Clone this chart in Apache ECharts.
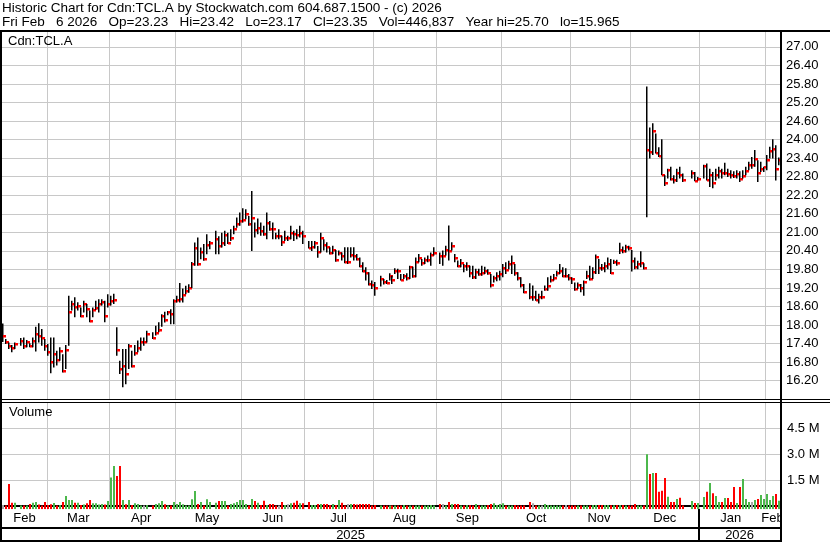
<!DOCTYPE html>
<html><head><meta charset="utf-8">
<script src="https://cdn.jsdelivr.net/npm/echarts@6/dist/echarts.min.js"></script>
<style>html,body{margin:0;padding:0;background:#fff}#c{width:830px;height:543px}</style>
</head><body><div id="c"></div><script>
// ---- data ----
const firstDay = [2025, 1, 10];   // Feb 10 2025 (month 0-based)
const lastDay  = [2026, 1, 6];    // Feb 6 2026
const monthNames = ['Jan','Feb','Mar','Apr','May','Jun','Jul','Aug','Sep','Oct','Nov','Dec'];
const headerLine1 = 'Historic Chart for Cdn:TCL.A by Stockwatch.com 604.687.1500 - (c) 2026';
const headerLine2 = 'Fri Feb   6 2026   Op=23.23   Hi=23.42   Lo=23.17   Cl=23.35   Vol=446,837   Year hi=25.70   lo=15.965';
const symbolLabel = 'Cdn:TCL.A';
const volumeLabel = 'Volume';
const priceTicks = {min: 15.6, max: 27.48, step: 0.6, firstLabel: 16.2, lastLabel: 27.0};
const volumeTicks = {min: 0, max: 5.97, step: 1.5, labels: ['1.5 M', '3.0 M', '4.5 M']};

// one entry per weekday; null = market holiday (no bar)
const high = [
18.05,17.55,17.44,17.36,17.44,null,17.58,17.60,17.52,17.41,17.60,17.95,18.06,17.87,17.55,
17.39,17.60,17.60,17.17,17.28,17.06,17.36,18.95,18.79,18.90,18.74,18.57,18.79,18.68,18.47,18.57,18.79,18.84,18.84,18.79,19.00,
18.95,19.01,17.93,16.85,17.23,17.23,17.39,17.17,17.36,17.50,17.60,17.60,17.82,null,17.77,17.98,18.09,18.35,18.43,18.46,18.51,18.84,
18.95,19.36,19.18,19.27,19.32,20.04,20.67,20.83,20.51,20.62,20.94,20.72,null,21.05,20.87,20.99,21.05,20.99,21.10,21.21,21.48,21.64,
21.78,21.75,21.53,22.34,21.32,21.45,21.32,21.21,21.64,21.37,21.32,20.99,21.10,20.89,21.05,20.89,21.21,21.05,21.10,21.21,21.05,
null,20.72,20.72,20.72,20.56,20.99,20.78,20.68,20.52,20.57,20.43,20.41,20.35,20.52,20.52,20.52,20.52,20.30,20.19,20.03,19.87,19.71,19.44,
19.39,null,19.60,19.49,19.46,19.68,19.60,19.84,19.82,19.65,19.65,19.68,19.92,19.89,20.19,20.30,20.14,20.19,20.25,20.35,20.52,
null,20.35,20.41,20.57,21.22,20.68,20.30,20.09,20.14,19.98,20.03,19.92,19.92,19.82,19.82,19.92,19.89,19.81,19.65,19.60,19.71,19.76,
19.98,20.03,20.08,20.25,19.98,19.71,19.55,19.33,null,19.35,19.28,19.11,19.01,19.11,19.28,19.55,19.60,19.65,19.76,19.98,19.87,19.84,19.65,
19.55,19.38,19.38,19.33,19.44,19.76,19.92,19.87,20.28,20.14,19.98,20.03,20.19,20.14,20.11,20.11,20.66,20.54,20.60,20.57,
20.43,20.19,20.08,20.39,20.00,25.72,24.39,24.53,24.20,23.75,24.01,22.85,23.06,23.12,22.85,23.06,23.12,22.90,null,null,23.01,22.95,22.79,
null,23.19,23.23,23.06,22.95,23.06,23.12,23.06,23.25,23.06,23.01,22.98,23.01,22.98,23.01,23.12,23.28,23.44,23.66,23.33,23.28,23.12,
23.50,23.77,24.01,23.82,23.42];
const low = [
17.45,17.39,17.23,17.12,17.23,null,17.33,17.23,17.28,17.28,17.28,17.15,17.44,17.33,17.17,
17.01,16.44,16.63,16.69,16.85,16.47,16.58,17.33,18.47,18.25,18.47,18.25,18.41,18.25,18.09,18.25,18.49,18.41,18.63,18.09,18.57,
18.63,18.68,17.01,16.42,15.99,16.09,16.58,16.63,17.01,17.12,17.17,17.33,17.44,null,17.55,17.66,17.77,17.95,18.08,18.32,18.03,18.03,
18.73,18.73,18.73,19.00,19.05,19.20,19.92,19.92,20.13,20.08,20.29,20.45,null,20.29,20.29,20.51,20.56,20.62,20.72,20.94,21.15,21.21,
21.32,21.42,21.21,20.40,20.83,20.94,20.89,20.89,20.78,21.05,20.78,20.78,20.78,20.56,20.72,20.72,20.78,20.72,20.78,20.83,20.62,
null,20.48,20.40,20.48,20.18,20.35,20.41,20.35,20.28,20.30,20.05,20.25,20.09,20.00,19.98,20.19,20.09,20.09,19.87,19.71,19.44,19.28,19.17,
18.95,null,19.25,19.31,19.33,19.44,19.33,19.65,19.49,19.44,19.49,19.44,19.49,19.53,19.55,20.03,19.92,19.98,20.03,19.92,20.25,
null,19.98,19.92,20.25,20.09,20.41,20.03,19.87,19.87,19.71,19.76,19.55,19.49,19.49,19.60,19.60,19.65,19.63,19.22,19.38,19.42,19.44,
19.55,19.65,19.81,19.65,19.60,19.44,19.22,19.03,null,18.84,18.79,18.79,18.70,18.84,19.11,19.11,19.38,19.44,19.57,19.65,19.55,19.55,19.44,
19.33,19.11,19.17,19.06,18.95,19.49,19.44,19.49,19.65,19.65,19.76,19.71,19.81,19.65,19.98,19.92,20.30,20.32,20.35,20.41,
19.73,19.81,19.81,19.87,19.80,21.49,23.39,23.50,23.55,23.44,22.85,22.50,22.74,22.68,22.58,22.63,22.74,22.63,null,null,22.74,22.65,22.68,
null,22.74,22.68,22.47,22.43,22.68,22.74,22.74,22.85,22.79,22.74,22.76,22.74,22.63,22.74,22.85,23.01,23.06,23.12,22.63,22.95,22.95,
23.01,23.39,23.39,22.68,23.17];
const close = [
17.66,17.46,17.33,17.25,17.39,null,17.50,17.33,17.46,17.33,17.50,17.71,17.66,17.57,17.33,
17.14,16.82,17.06,16.87,17.17,16.52,17.20,18.41,18.68,18.57,18.62,18.29,18.68,18.53,18.14,18.49,18.55,18.68,18.74,18.29,18.68,
18.79,18.82,17.20,16.58,16.69,16.42,17.33,16.69,17.10,17.25,17.44,17.44,17.71,null,17.58,17.73,17.84,18.30,18.16,18.41,18.35,18.78,
18.81,18.86,18.97,19.11,19.20,19.99,20.50,19.97,20.38,20.13,20.58,20.65,null,20.78,20.56,20.65,20.92,20.65,20.83,21.10,21.27,21.37,
21.40,21.59,21.27,21.47,21.07,21.14,21.05,20.96,21.31,21.12,21.11,20.87,20.87,20.69,20.82,20.82,20.99,20.96,20.92,20.99,20.89,
null,20.50,20.54,20.67,20.38,20.82,20.60,20.52,20.33,20.44,20.09,20.34,20.25,20.03,20.03,20.27,20.22,20.14,19.92,19.76,19.70,19.33,19.30,
19.20,null,19.49,19.39,19.36,19.58,19.47,19.76,19.74,19.46,19.59,19.53,19.87,19.59,20.05,20.18,20.01,20.11,20.12,20.28,20.34,
null,20.24,20.24,20.44,20.39,20.57,20.16,19.90,20.01,19.90,19.92,19.69,19.55,19.71,19.65,19.69,19.76,19.70,19.30,19.52,19.58,19.65,
19.86,19.79,19.98,20.00,19.70,19.52,19.30,19.07,null,18.91,18.91,18.81,18.90,18.90,19.17,19.28,19.46,19.52,19.69,19.76,19.60,19.60,19.51,
19.49,19.18,19.30,19.19,19.38,19.59,19.50,19.73,20.21,19.86,19.84,19.91,19.98,19.69,20.03,20.02,20.42,20.39,20.54,20.48,
20.08,19.89,19.98,20.01,19.85,23.66,23.61,24.28,23.58,23.46,22.87,22.61,23.01,22.74,22.68,22.93,22.85,22.68,null,null,22.91,22.67,22.72,
null,23.13,22.68,22.87,22.59,22.87,23.00,22.91,22.93,22.89,22.85,22.81,22.90,22.72,22.81,22.97,23.19,23.19,23.37,22.93,23.06,23.10,
23.33,23.62,23.69,23.04,23.35];
// volume in millions of shares
const volume = [
0.05,0.02,1.27,0.18,0.18,null,0.02,0.02,0.02,0.11,0.18,0.22,0.07,0.02,0.22,
0.05,0.09,0.16,0.02,0.05,0.22,0.57,0.34,0.34,0.18,0.18,0.05,0.07,0.15,0.34,0.15,0.15,0.07,0.11,0.07,0.28,
1.64,2.31,1.73,2.31,0.34,0.09,0.34,0.05,0.15,0.11,0.02,0.02,0.05,null,0.02,0.11,0.15,0.28,0.09,0.02,0.02,0.22,
0.11,0.22,0.09,0.02,0.02,0.38,0.86,0.11,0.22,0.02,0.38,0.22,null,0.18,0.28,0.28,0.28,0.02,0.11,0.15,0.22,0.34,
0.34,0.11,0.02,0.40,0.28,0.18,0.05,0.30,0.05,0.11,0.11,0.02,0.02,0.22,0.05,0.09,0.15,0.18,0.30,0.15,0.15,
null,0.22,0.05,0.05,0.11,0.11,0.11,0.11,0.05,0.11,0.05,0.34,0.18,0.02,0.11,0.11,0.11,0.07,0.11,0.11,0.11,0.11,0.02,
0.05,null,0.02,0.02,0.02,0.02,0.02,0.02,0.02,0.02,0.05,0.02,0.02,0.02,0.02,0.02,0.02,0.02,0.02,0.05,0.02,
null,0.11,0.11,0.02,0.22,0.11,0.11,0.11,0.02,0.02,0.05,0.05,0.02,0.11,0.02,0.02,0.02,0.05,0.11,0.15,0.05,0.11,
0.15,0.02,0.02,0.02,0.05,0.02,0.02,0.02,null,0.22,0.15,0.02,0.02,0.02,0.11,0.05,0.02,0.02,0.02,0.02,0.02,0.05,0.02,
0.02,0.02,0.02,0.02,0.02,0.02,0.02,0.05,0.05,0.05,0.05,0.05,0.05,0.03,0.03,0.05,0.05,0.05,0.02,0.02,
0.02,0.11,0.02,0.02,0.02,2.99,1.85,1.91,1.91,0.82,0.88,1.62,0.53,0.22,0.22,0.40,0.47,0.02,null,null,0.28,0.16,0.16,
null,0.51,0.82,1.33,0.73,0.57,0.22,0.22,0.45,0.45,0.22,1.09,0.16,1.09,1.56,0.40,0.22,0.22,0.34,0.40,0.63,0.40,
0.69,0.34,0.57,0.69,0.30];

// ---- categories: every weekday in the range ----
const dates = [];
(function () {
  let t = Date.UTC(firstDay[0], firstDay[1], firstDay[2]);
  const end = Date.UTC(lastDay[0], lastDay[1], lastDay[2]);
  while (t <= end) {
    const d = new Date(t);
    const wd = d.getUTCDay();
    if (wd !== 0 && wd !== 6) dates.push(d.toISOString().slice(0, 10));
    t += 86400000;
  }
})();

// month / year groups
function groups(keyLen) {
  const g = [];
  dates.forEach((d, i) => {
    const k = d.slice(0, keyLen);
    if (!g.length || g[g.length - 1].key !== k) g.push({key: k, first: i, count: 0});
    g[g.length - 1].count++;
  });
  return g;
}
const months = groups(7), years = groups(4);
const monthStart = new Set(months.slice(1).map(m => m.first));
const monthMid = new Set(months.map(m => m.first + Math.floor((m.count - 1) / 2)));
const yearStarts = years.slice(1).map(y => y.first);
const yearMid = new Set(years.map(y => y.first + Math.floor((y.count - 1) / 2)));

// up / down / unchanged vs previous close
const dir = [];
let prev = null;
close.forEach((c, i) => {
  if (c == null) { dir.push(0); return; }
  dir.push(prev == null ? 0 : (c > prev ? 1 : (c < prev ? -1 : 0)));
  prev = c;
});

const hlcData = [], volData = [];
dates.forEach((d, i) => {
  if (high[i] != null) hlcData.push([i, high[i], low[i], close[i]]);
  if (volume[i] != null) volData.push([i, volume[i], dir[i]]);
});

// ---- chart ----
const FONT = '"Liberation Sans", Arial, sans-serif';
const GRID = '#c8c8c8';
const chart = echarts.init(document.getElementById('c'), null, {renderer: 'canvas'});
const splitX = {show: true, interval: (i) => monthStart.has(i), lineStyle: {color: GRID, width: 1}};
const txt = {color: '#000', fontSize: 13, fontFamily: FONT};

const baseGraphic = [
  {type: 'text', left: 2, top: 1, z: 10, style: {text: headerLine1, font: '13.5px ' + FONT, fill: '#000'}},
  {type: 'text', left: 2, top: 15, z: 10, style: {text: headerLine2, font: '13.5px ' + FONT, fill: '#000'}},
  {type: 'text', left: 8, top: 35, z: 10, style: {text: symbolLabel, font: '13px ' + FONT, fill: '#000'}},
  {type: 'text', left: 9, top: 406, z: 10, style: {text: volumeLabel, font: '13px ' + FONT, fill: '#000'}},
  {type: 'rect', z: 20, shape: {x: 782, y: 511, width: 48, height: 32}, style: {fill: '#fff'}},
  {type: 'line', z: 30, shape: {x1: 0, y1: 31, x2: 830, y2: 31}, style: {stroke: '#000', lineWidth: 2}},
  {type: 'line', z: 30, shape: {x1: 1, y1: 30, x2: 1, y2: 542}, style: {stroke: '#000', lineWidth: 2}},
  {type: 'line', z: 30, shape: {x1: 781, y1: 30, x2: 781, y2: 542}, style: {stroke: '#000', lineWidth: 2}},
  {type: 'line', z: 30, shape: {x1: 0, y1: 399.5, x2: 830, y2: 399.5}, style: {stroke: '#000', lineWidth: 1}},
  {type: 'line', z: 30, shape: {x1: 0, y1: 402.5, x2: 830, y2: 402.5}, style: {stroke: '#000', lineWidth: 1}},
  {type: 'line', z: 30, shape: {x1: 0, y1: 541, x2: 782, y2: 541}, style: {stroke: '#000', lineWidth: 2}}
];

chart.setOption({
  animation: false,
  backgroundColor: '#fff',
  grid: [
    {left: 2, right: 50, top: 32, height: 367.3},
    {left: 2, right: 50, top: 403, height: 106.3},
    {left: 2, right: 50, top: 403, height: 102.8}
  ],
  xAxis: [
    {gridIndex: 0, type: 'category', data: dates, boundaryGap: true,
     axisLine: {show: false}, axisTick: {show: false}, axisLabel: {show: false}, splitLine: splitX},
    {gridIndex: 1, type: 'category', data: dates, boundaryGap: true,
     axisLine: {show: true, lineStyle: {color: '#000', width: 2}},
     axisTick: {show: false},
     axisLabel: Object.assign({interval: (i) => monthMid.has(i), margin: 3,
       formatter: (v) => monthNames[parseInt(v.slice(5, 7), 10) - 1]}, txt),
     splitLine: splitX},
    {gridIndex: 1, type: 'category', data: dates, boundaryGap: true, position: 'bottom', offset: 18,
     axisLine: {show: true, lineStyle: {color: '#000', width: 2}},
     axisTick: {show: false},
     axisLabel: Object.assign({interval: (i) => yearMid.has(i), margin: 2,
       formatter: (v) => v.slice(0, 4)}, txt),
     splitLine: {show: false}},
    {gridIndex: 2, type: 'category', data: dates, boundaryGap: true, show: false}
  ],
  yAxis: [
    {gridIndex: 0, type: 'value', position: 'right', min: priceTicks.min, max: priceTicks.max, interval: priceTicks.step,
     axisLine: {show: false}, axisTick: {show: false},
     axisLabel: Object.assign({margin: 6, showMinLabel: false, showMaxLabel: false,
       formatter: (v) => (v < priceTicks.firstLabel - 0.01 || v > priceTicks.lastLabel + 0.01) ? '' : v.toFixed(2)}, txt),
     splitLine: {show: true, showMinLine: false, showMaxLine: false, lineStyle: {color: GRID, width: 1}}},
    {gridIndex: 1, type: 'value', min: -0.203, max: 5.97, show: false, splitLine: {show: false}},
    {gridIndex: 2, type: 'value', position: 'right', min: volumeTicks.min, max: volumeTicks.max, interval: volumeTicks.step,
     axisLine: {show: false}, axisTick: {show: false},
     axisLabel: Object.assign({margin: 7,
       formatter: (v) => { const k = Math.round(v / volumeTicks.step); return (k >= 1 && k <= volumeTicks.labels.length) ? volumeTicks.labels[k - 1] : ''; }}, txt),
     splitLine: {show: true, showMinLine: false, showMaxLine: false, lineStyle: {color: GRID, width: 1}}}
  ],
  series: [
    {type: 'custom', xAxisIndex: 0, yAxisIndex: 0, data: hlcData, encode: {x: 0, y: [1, 2, 3]}, clip: true,
     renderItem: function (params, api) {
       const i = api.value(0);
       const top = api.coord([i, api.value(1)]);
       const bot = api.coord([i, api.value(2)]);
       const cl = api.coord([i, api.value(3)]);
       const x = Math.round(top[0]);
       return {type: 'group', children: [
         {type: 'rect', shape: {x: x - 1, y: top[1], width: 1.5, height: Math.max(1, bot[1] - top[1])}, style: {fill: '#000'}},
         {type: 'rect', shape: {x: x, y: Math.round(cl[1]) - 1, width: 3, height: 2.5}, style: {fill: '#ff0000'}}
       ]};
     }},
    {type: 'custom', xAxisIndex: 1, yAxisIndex: 1, data: volData, encode: {x: 0, y: 1}, clip: true,
     renderItem: function (params, api) {
       const i = api.value(0);
       const p = api.coord([i, api.value(1)]);
       const bottom = params.coordSys.y + params.coordSys.height;
       const d = api.value(2);
       const col = d > 0 ? '#4cb84c' : (d < 0 ? '#ff0000' : '#a8a8a8');
       const x = Math.round(p[0]);
       return {type: 'rect', shape: {x: x - 1, y: p[1], width: 2, height: bottom - p[1]}, style: {fill: col}};
     }}
  ],
  graphic: baseGraphic
});

// year separator in the date rows, placed through the axis scale (boundary between categories)
const sepLines = yearStarts.map(idx => {
  const a = chart.convertToPixel({xAxisIndex: 1}, idx - 1);
  const b = chart.convertToPixel({xAxisIndex: 1}, idx);
  const x = Math.round((a + b) / 2);
  return {type: 'line', z: 30, shape: {x1: x, y1: 509, x2: x, y2: 541}, style: {stroke: '#000', lineWidth: 2}};
});
chart.setOption({graphic: baseGraphic.concat(sepLines)});
</script></body></html>
